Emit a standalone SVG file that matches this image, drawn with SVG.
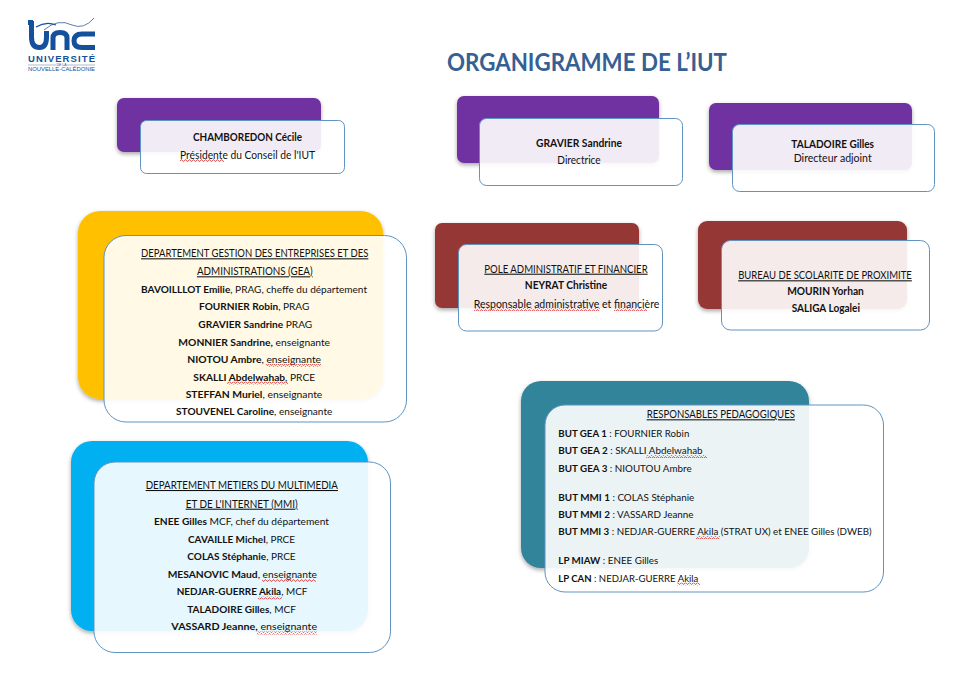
<svg xmlns="http://www.w3.org/2000/svg" width="971" height="675" viewBox="0 0 971 675">
<style>
text{font-family:Lato,"Liberation Sans",sans-serif;font-size:10.6px;fill:#111;text-anchor:middle}
.b{font-weight:700}
text.m{font-size:10.1px}
.u{text-decoration:underline}
.l{text-anchor:start}
.back{filter:url(#sh)}
.card{fill:#fff;fill-opacity:.9;stroke:#5f93c2;stroke-width:1}
.purple{fill:#7030a0}.red{fill:#953735}
.sq{fill:url(#wave)}
.title{font-size:24px;font-weight:700;fill:#366092}
.logo{fill:none;stroke:#15509c;stroke-width:5}
.logotxt{font-family:"Liberation Sans",sans-serif;fill:#15509c}
</style>
<defs>
<filter id="sh" x="-5%" y="-5%" width="110%" height="115%"><feDropShadow dx="0" dy="2" stdDeviation="2" flood-color="#000" flood-opacity=".35"/></filter>
<pattern id="wave" width="4" height="3" patternUnits="userSpaceOnUse"><path d="M0 2.3 L1 .8 L2 .8 L3 2.3 L4 2.3" fill="none" stroke="#d8383a" stroke-width=".8"/></pattern>
</defs>
<rect width="971" height="675" fill="#fff"/>

<g id="logo">
<path d="M44 30 Q58 18 72 25 Q84 30 94 18" fill="none" stroke="#5a7fa8" stroke-width="1"/>
<path d="M36 27 Q46 21 56 25" fill="none" stroke="#15509c" stroke-width="1.3"/>
<path d="M28 22.5H33" class="logo" stroke-width="4"/>
<path class="logo" d="M31.5 21V37Q31.5 47.5 39.500 47.500Q46.500 47.500 46.500 37V31"/>
<path class="logo" d="M53 50V38Q53 32.500 60 32.500Q67 32.500 67 38V50"/>
<path class="logo" d="M95 34H82Q74 34 74 41Q74 47.500 82 47.500H95"/>
<text class="logotxt b" x="61.500" y="61.500" textLength="67" lengthAdjust="spacing" style="font-size:9.500px">UNIVERSITÉ</text>
<path d="M28 65H56M67 65H95" stroke="#7b8ea6" stroke-width=".6"/>
<text class="logotxt" x="61.500" y="66" style="font-size:3.500px">DE LA</text>
<text class="logotxt" x="61.500" y="71" textLength="67" lengthAdjust="spacingAndGlyphs" style="font-size:6px">NOUVELLE-CALÉDONIE</text>
</g>

<text id="title" class="title" x="587" y="71" textLength="280" lengthAdjust="spacingAndGlyphs">ORGANIGRAMME DE L’IUT</text>

<g id="chamboredon">
<rect class="back purple" x="117" y="98" width="204" height="54" rx="7"/>
<rect class="card" x="140.500" y="120.500" width="204" height="53" rx="6"/>
<text class="b" x="247.500" y="141" textLength="109" lengthAdjust="spacingAndGlyphs">CHAMBOREDON Cécile</text>
<text x="247.500" y="158.500" textLength="135" lengthAdjust="spacingAndGlyphs">Présidente du Conseil de l'IUT</text>
<rect class="sq" x="180" y="159" width="44" height="3"/>
</g>

<g id="gravier">
<rect class="back purple" x="457" y="96" width="202" height="67" rx="7"/>
<rect class="card" x="479.500" y="118.500" width="203" height="67" rx="7"/>
<text class="b" x="579" y="147" textLength="86" lengthAdjust="spacingAndGlyphs">GRAVIER Sandrine</text>
<text x="579" y="164" textLength="43.300" lengthAdjust="spacingAndGlyphs">Directrice</text>
</g>

<g id="taladoire">
<rect class="back purple" x="709" y="103" width="203" height="67" rx="7"/>
<rect class="card" x="732.500" y="124.500" width="202" height="67" rx="7"/>
<text class="b" x="832.700" y="148" textLength="82.700" lengthAdjust="spacingAndGlyphs">TALADOIRE Gilles</text>
<text x="832.700" y="162" textLength="78" lengthAdjust="spacingAndGlyphs">Directeur adjoint</text>
</g>

<g id="gea">
<rect class="back" fill="#ffc000" x="78" y="211" width="305" height="188" rx="22"/>
<rect class="card" x="104" y="235.500" width="302.500" height="186.500" rx="22"/>
<text class="u" x="254.700" y="257.300" textLength="227.300" lengthAdjust="spacingAndGlyphs">DEPARTEMENT GESTION DES ENTREPRISES ET DES</text>
<text class="u" x="254.800" y="275.300" textLength="115.700" lengthAdjust="spacingAndGlyphs">ADMINISTRATIONS (GEA)</text>
<text class="m" x="254" y="292.700" textLength="226" lengthAdjust="spacingAndGlyphs"><tspan class="b">BAVOILLLOT Emilie</tspan>, PRAG, cheffe du département</text>
<text class="m" x="254.200" y="310.300" textLength="110.300" lengthAdjust="spacingAndGlyphs"><tspan class="b">FOURNIER Robin</tspan>, PRAG</text>
<text class="m" x="255.300" y="327.700" textLength="114" lengthAdjust="spacingAndGlyphs"><tspan class="b">GRAVIER Sandrine</tspan> PRAG</text>
<text class="m" x="254.200" y="345.700" textLength="151.700" lengthAdjust="spacingAndGlyphs"><tspan class="b">MONNIER Sandrine,</tspan> enseignante</text>
<text class="m" x="254.200" y="363" textLength="133.700" lengthAdjust="spacingAndGlyphs"><tspan class="b">NIOTOU Ambre</tspan>, enseignante</text>
<text class="m" x="254.200" y="380.700" textLength="121.700" lengthAdjust="spacingAndGlyphs"><tspan class="b">SKALLI Abdelwahab</tspan>, PRCE</text>
<text class="m" x="254" y="398" textLength="136.700" lengthAdjust="spacingAndGlyphs"><tspan class="b">STEFFAN Muriel</tspan>, enseignante</text>
<text class="m" x="254.200" y="415" textLength="156.300" lengthAdjust="spacingAndGlyphs"><tspan class="b">STOUVENEL Caroline</tspan>, enseignante</text>
<rect class="sq" x="266" y="364" width="55" height="3"/>
<rect class="sq" x="227" y="381.500" width="61" height="3"/>
</g>

<g id="pole">
<rect class="back red" x="435" y="223" width="204" height="85" rx="7"/>
<rect class="card" x="458.500" y="244.500" width="204" height="86.500" rx="8"/>
<text class="u" x="566" y="272.700" textLength="163.300" lengthAdjust="spacingAndGlyphs">POLE ADMINISTRATIF ET FINANCIER</text>
<text class="b" x="566" y="289.300" textLength="82.300" lengthAdjust="spacingAndGlyphs">NEYRAT Christine</text>
<text x="566.500" y="307.700" textLength="185.700" lengthAdjust="spacingAndGlyphs">Responsable administrative et financière</text>
<rect class="sq" x="474" y="308" width="126" height="3"/>
<rect class="sq" x="614" y="308" width="33" height="3"/>
</g>

<g id="bureau">
<rect class="back red" x="698" y="221" width="209" height="88" rx="9"/>
<rect class="card" x="721.500" y="240.500" width="208" height="89.500" rx="9"/>
<text class="u" x="825" y="279.300" textLength="173.700" lengthAdjust="spacingAndGlyphs">BUREAU DE SCOLARITE DE PROXIMITE</text>
<text class="b" x="825.500" y="295" textLength="76.700" lengthAdjust="spacingAndGlyphs">MOURIN Yorhan</text>
<text class="b" x="825.800" y="311.700" textLength="68.300" lengthAdjust="spacingAndGlyphs">SALIGA Logalei</text>
</g>

<g id="mmi">
<rect class="back" fill="#00b0f0" x="71" y="441" width="297" height="190" rx="21"/>
<rect class="card" x="94" y="462" width="296.500" height="190.500" rx="21"/>
<text class="u" x="241.800" y="489" textLength="192.300" lengthAdjust="spacingAndGlyphs">DEPARTEMENT METIERS DU MULTIMEDIA</text>
<text class="u" x="241.700" y="507.700" textLength="112" lengthAdjust="spacingAndGlyphs">ET DE L'INTERNET (MMI)</text>
<text class="m" x="241.500" y="525" textLength="175" lengthAdjust="spacingAndGlyphs"><tspan class="b">ENEE Gilles</tspan> MCF, chef du département</text>
<text class="m" x="241.500" y="542.700" textLength="107" lengthAdjust="spacingAndGlyphs"><tspan class="b">CAVAILLE Michel</tspan>, PRCE</text>
<text class="m" x="241.500" y="560" textLength="108.300" lengthAdjust="spacingAndGlyphs"><tspan class="b">COLAS Stéphanie</tspan>, PRCE</text>
<text class="m" x="242.300" y="577.700" textLength="149.300" lengthAdjust="spacingAndGlyphs"><tspan class="b">MESANOVIC Maud</tspan>, enseignante</text>
<text class="m" x="242" y="595" textLength="130.700" lengthAdjust="spacingAndGlyphs"><tspan class="b">NEDJAR-GUERRE Akila</tspan>, MCF</text>
<text class="m" x="241.500" y="612.700" textLength="108.700" lengthAdjust="spacingAndGlyphs"><tspan class="b">TALADOIRE Gilles</tspan>, MCF</text>
<text class="m" x="244.200" y="630" textLength="145.700" lengthAdjust="spacingAndGlyphs"><tspan class="b">VASSARD Jeanne,</tspan> enseignante</text>
<rect class="sq" x="262" y="579" width="54" height="3"/>
<rect class="sq" x="258" y="596.500" width="24" height="3"/>
<rect class="sq" x="257" y="631.500" width="60" height="3"/>
</g>

<g id="responsables">
<rect class="back" fill="#31849b" x="521" y="381" width="288" height="187" rx="20"/>
<rect class="card" x="545" y="405" width="338.500" height="187" rx="20"/>
<text class="u" x="720.800" y="418.300" textLength="148.300" lengthAdjust="spacingAndGlyphs">RESPONSABLES PEDAGOGIQUES</text>
<text class="l m" x="558.300" y="436.700" textLength="131" lengthAdjust="spacingAndGlyphs"><tspan class="b">BUT GEA 1</tspan> : FOURNIER Robin</text>
<text class="l m" x="558.300" y="454" textLength="144.300" lengthAdjust="spacingAndGlyphs"><tspan class="b">BUT GEA 2</tspan> : SKALLI Abdelwahab</text>
<text class="l m" x="558.300" y="471.700" textLength="133.300" lengthAdjust="spacingAndGlyphs"><tspan class="b">BUT GEA 3</tspan> : NIOUTOU Ambre</text>
<text class="l m" x="558.300" y="500.700" textLength="136" lengthAdjust="spacingAndGlyphs"><tspan class="b">BUT MMI 1</tspan> : COLAS Stéphanie</text>
<text class="l m" x="558.300" y="517.700" textLength="135.300" lengthAdjust="spacingAndGlyphs"><tspan class="b">BUT MMI 2</tspan> : VASSARD Jeanne</text>
<text class="l m" x="558.300" y="535" textLength="313.300" lengthAdjust="spacingAndGlyphs"><tspan class="b">BUT MMI 3</tspan> : NEDJAR-GUERRE Akila (STRAT UX) et ENEE Gilles (DWEB)</text>
<text class="l m" x="558.300" y="563.700" textLength="100" lengthAdjust="spacingAndGlyphs"><tspan class="b">LP MIAW</tspan> : ENEE Gilles</text>
<text class="l m" x="558.300" y="581.700" textLength="140" lengthAdjust="spacingAndGlyphs"><tspan class="b">LP CAN</tspan> : NEDJAR-GUERRE Akila</text>
<rect class="sq" x="646" y="455" width="61" height="3"/>
<rect class="sq" x="696" y="536" width="24" height="3"/>
<rect class="sq" x="677" y="582.500" width="23" height="3"/>
</g>
</svg>
